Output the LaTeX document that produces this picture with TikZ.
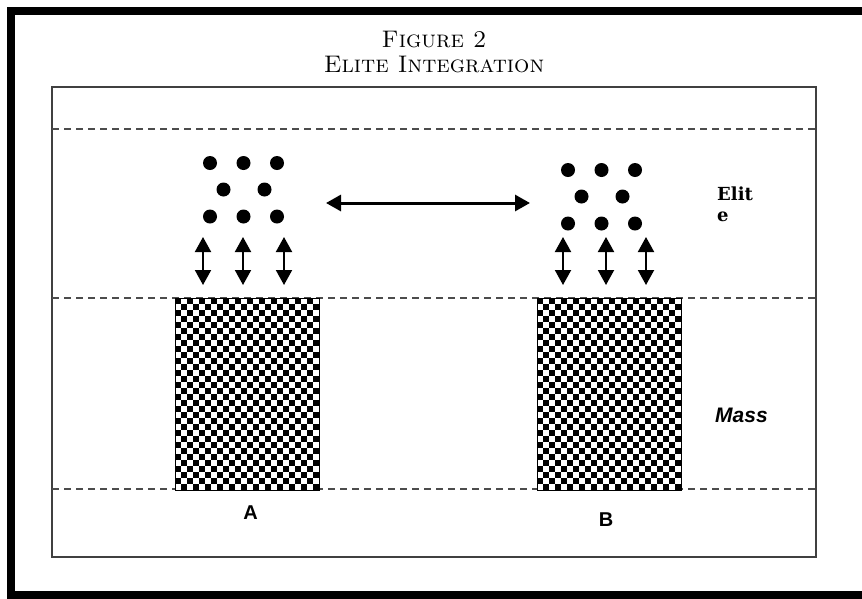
\documentclass[tikz,border=0pt]{standalone}
\usepackage{fontspec}
\newfontfamily\labelsans{Liberation Sans}
\newfontfamily\labelserif{DejaVu Serif}
\usetikzlibrary{arrows.meta}

\begin{document}
\begin{tikzpicture}[x=1pt, y=-1pt,
            elite dot/.style={circle, fill=black, inner sep=0pt, minimum size=14pt},
            link/.style={{Triangle[length=15pt,width=16pt]}-{Triangle[length=15pt,width=16pt]}, line width=2pt},
            tier line/.style={dash pattern=on 7pt off 5pt, line width=2pt, black!70},
            mass block/.style={draw, line width=1pt, minimum width=144pt, minimum height=192pt, anchor=north west, inner sep=0pt},
            block label/.style={font=\labelsans\bfseries\fontsize{20}{24}\selectfont, anchor=base}]

            \useasboundingbox (0,0) rectangle (862,598);
            \clip (0,0) rectangle (862,598);

            % Outer frame
            \draw[line width=8pt] (11,11) rectangle (900,595);

            % Title
            \node[font=\fontsize{24}{28}\selectfont, anchor=base] (title) at (434,47) {\textsc{Figure 2}};
            \node[font=\fontsize{24}{28}\selectfont, anchor=base] (subtitle) at (434,72) {\textsc{Elite Integration}};

            % Inner panel and tier lines
            \draw[black!75, line width=1.5pt] (52,87) rectangle (816,557);
            \foreach \y in {129,298,489}
                \draw[tier line] (52,\y) -- (816,\y);

            % Mass blocks (checkered)
            \foreach \x/\n in {175/A,537/B} {
                \fill[white] (\x,298) rectangle ++(144,192);
                \foreach \i in {0,...,23}
                    \foreach \j in {0,...,31} {
                        \pgfmathtruncatemacro\odd{mod(\i+\j,2)}
                        \ifnum\odd=0 \fill (\x+6*\i,298+6*\j) rectangle ++(6,6); \fi
                    }
                \node[mass block] (block\n) at (\x,298) {};
            }

            % Elite dots
            \foreach \g/\x/\y in {A/210/163, B/568/170} {
                \node[elite dot] (\g-1) at (\x,\y) {};
                \node[elite dot] (\g-2) at (\x+33.5,\y) {};
                \node[elite dot] (\g-3) at (\x+67,\y) {};
                \node[elite dot] (\g-4) at (\x+13.5,\y+26.5) {};
                \node[elite dot] (\g-5) at (\x+54.5,\y+26.5) {};
                \node[elite dot] (\g-6) at (\x,\y+53.5) {};
                \node[elite dot] (\g-7) at (\x+33.5,\y+53.5) {};
                \node[elite dot] (\g-8) at (\x+67,\y+53.5) {};
            }

            % Elite-mass links
            \foreach \g/\x/\dx/\ex in {A/203/40/81, B/563/43/83} {
                \coordinate (\g-t1) at (\x,237);      \coordinate (\g-b1) at (\x,285);
                \coordinate (\g-t2) at (\x+\dx,237);  \coordinate (\g-b2) at (\x+\dx,285);
                \coordinate (\g-t3) at (\x+\ex,237);  \coordinate (\g-b3) at (\x+\ex,285);
                \draw[link] (\g-t1) -- (\g-b1);
                \draw[link] (\g-t2) -- (\g-b2);
                \draw[link] (\g-t3) -- (\g-b3);
            }

            % Link between elites
            \coordinate (elite left) at (326,203);
            \coordinate (elite right) at (530,203);
            \draw[link, line width=3pt] (elite left) -- (elite right);

            % Tier labels
            \node[font=\labelserif\bfseries\fontsize{18}{21}\selectfont, align=left, anchor=north west, inner sep=0pt] (elite) at (717,187) {Elit\\e};
            \node[font=\labelsans\bfseries\itshape\fontsize{21}{25}\selectfont, anchor=base west, inner sep=0pt] (mass) at (715,422) {Mass};
            \node[block label] (labA) at (250.5,519) {A};
            \node[block label] (labB) at (606,526) {B};
        \end{tikzpicture}
\end{document}
